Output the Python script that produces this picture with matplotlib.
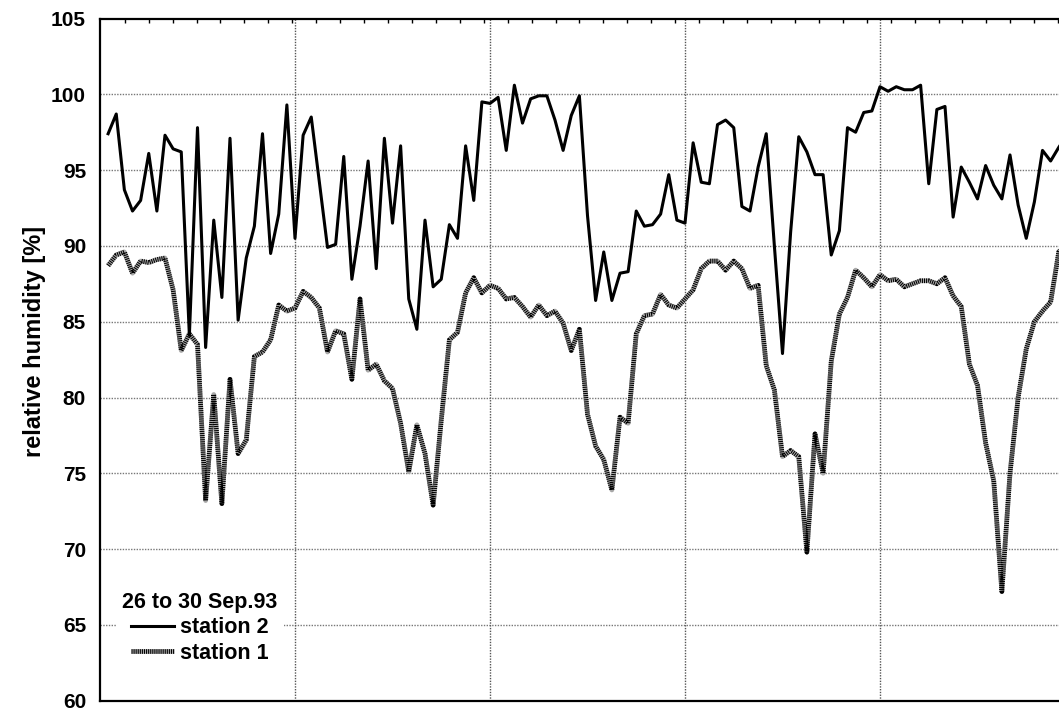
import numpy as np
import matplotlib
matplotlib.use("Agg")
from matplotlib import pyplot as plt
from matplotlib.legend_handler import HandlerTuple

# hourly values, 26 to 30 Sep. 93 (hour 1 .. 119)
hours = np.arange(1, 120)

station2 = [
    97.4, 98.7, 93.7, 92.3, 93.0, 96.1, 92.3, 97.3, 96.4, 96.2,
    84.1, 97.8, 83.3, 91.7, 86.6, 97.1, 85.1, 89.2, 91.3, 97.4,
    89.5, 92.1, 99.3, 90.5, 97.3, 98.5, 94.2, 89.9, 90.1, 95.9,
    87.8, 91.3, 95.6, 88.5, 97.1, 91.5, 96.6, 86.5, 84.5, 91.7,
    87.3, 87.8, 91.4, 90.5, 96.6, 93.0, 99.5, 99.4, 99.8, 96.3,
    100.6, 98.1, 99.7, 99.9, 99.9, 98.3, 96.3, 98.6, 99.9, 92.0,
    86.4, 89.6, 86.4, 88.2, 88.3, 92.3, 91.3, 91.4, 92.1, 94.7,
    91.7, 91.5, 96.8, 94.2, 94.1, 98.0, 98.3, 97.8, 92.6, 92.3,
    95.2, 97.4, 90.0, 82.9, 90.9, 97.2, 96.2, 94.7, 94.7, 89.4,
    91.0, 97.8, 97.5, 98.8, 98.9, 100.5, 100.2, 100.5, 100.3, 100.3,
    100.6, 94.1, 99.0, 99.2, 91.9, 95.2, 94.2, 93.1, 95.3, 94.0,
    93.1, 96.0, 92.7, 90.5, 92.9, 96.3, 95.6, 96.5, 97.3,
]

station1 = [
    88.7, 89.4, 89.6, 88.2, 89.0, 88.9, 89.1, 89.2, 87.1, 83.1,
    84.2, 83.5, 73.2, 80.2, 73.0, 81.2, 76.3, 77.2, 82.7, 83.0,
    83.8, 86.1, 85.7, 85.9, 87.0, 86.6, 85.9, 83.0, 84.4, 84.2,
    81.2, 86.5, 81.8, 82.2, 81.1, 80.6, 78.3, 75.1, 78.2, 76.3,
    72.9, 78.5, 83.8, 84.3, 86.9, 87.9, 86.9, 87.4, 87.2, 86.5,
    86.6, 86.0, 85.3, 86.1, 85.4, 85.7, 84.9, 83.1, 84.5, 78.9,
    76.8, 75.9, 73.9, 78.7, 78.3, 84.2, 85.4, 85.5, 86.8, 86.1,
    85.9, 86.5, 87.1, 88.5, 89.0, 89.0, 88.4, 89.0, 88.5, 87.2,
    87.4, 82.1, 80.5, 76.1, 76.5, 76.1, 69.8, 77.6, 75.0, 82.4,
    85.5, 86.6, 88.4, 87.9, 87.3, 88.1, 87.7, 87.8, 87.3, 87.5,
    87.7, 87.7, 87.5, 87.9, 86.7, 86.0, 82.2, 80.8, 77.0, 74.5,
    67.2, 75.0, 80.0, 83.2, 85.0, 85.7, 86.3, 89.6, 90.4,
]

y_ticks = np.arange(60, 106, 5)
day_lines = [24, 48, 72, 96]

plt.rcParams['font.family'] = ['Liberation Sans', 'DejaVu Sans']
plt.rcParams['font.weight'] = 'bold'

fig = plt.figure(figsize=(10.59, 7.12), dpi=100)
ax = fig.add_axes([100 / 1059, 11.3 / 712, 975 / 1059, 682.2 / 712])

# grid
for v in y_ticks[1:-1]:
    ax.axhline(v, color='#777777', lw=1.0, ls=(0, (1, 1)), zorder=1)
for d in day_lines:
    ax.axvline(d, color='#555555', lw=1.0, ls=(0, (1, 1)), zorder=1)

l2, = ax.plot(hours, station2, color='black', lw=2.2, zorder=3)
b1, = ax.plot(hours, station1, color='#a8a8a8', lw=3.4,
              solid_capstyle='butt', zorder=2)
d1, = ax.plot(hours, station1, color='black', lw=3.4,
              ls=(0, (0.22, 0.22)), dash_capstyle='butt', zorder=2)

ax.set_xlim(0, 120)
ax.set_ylim(60, 105)
ax.set_yticks(y_ticks)
ax.tick_params(axis='y', length=0, pad=10, labelsize=15)
ax.set_xticks([])
ax.xaxis.set_ticks_position('top')
ax.set_xticks(np.arange(3.04, 120, 2.946), minor=True)
ax.tick_params(axis='x', which='minor', direction='in', length=3,
               width=1, top=True, bottom=False)
for s in ax.spines.values():
    s.set_linewidth(1.6)

ax.set_ylabel('relative humidity [%]', fontsize=17, fontweight='bold')
ax.yaxis.set_label_coords(-0.0554, 0.526)

leg = ax.legend([l2, (b1, d1)], ['station 2', 'station 1'],
                handler_map={tuple: HandlerTuple(ndivide=1, pad=0)},
                title='26 to 30 Sep.93',
                title_fontproperties={'size': 15.5, 'weight': 'bold'},
                prop={'size': 15.5, 'weight': 'bold'},
                loc='lower left', bbox_to_anchor=(0.016, 0.045),
                borderaxespad=0, borderpad=0.3, handlelength=2.0,
                handletextpad=0.25, labelspacing=0.2,
                frameon=True, fancybox=False, framealpha=1,
                facecolor='white', edgecolor='none')
leg.set_zorder(5)

fig.savefig('out.png', dpi=100)
